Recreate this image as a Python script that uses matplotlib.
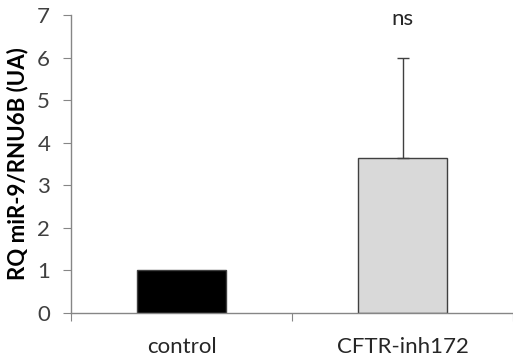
import matplotlib.pyplot as plt

categories = ["control", "CFTR-inh172"]
values = [1.0, 3.63]
errors = [0.0, 2.35]
bar_colors = ["#000000", "#d9d9d9"]
yticks = [0, 1, 2, 3, 4, 5, 6, 7]

plt.rcParams['font.family'] = ['Lato', 'DejaVu Sans']

fig = plt.figure(figsize=(5.13, 3.6), dpi=100)
ax = fig.add_axes([71 / 513, (360 - 313) / 360, 442 / 513, 298 / 360])

x = list(range(len(categories)))
ax.bar(x, values, width=0.4, color=bar_colors, edgecolor="#404040", linewidth=1.0, zorder=2)
ax.errorbar(x[1], values[1], yerr=[[0], [errors[1]]], fmt="none", ecolor="#404040",
            elinewidth=1.0, capsize=4, capthick=1.0, zorder=3)
ax.text(x[1], 6.9, "ns", ha="center", va="center", fontsize=16, color="#262626")

ax.set_xlim(-0.5, 1.456)
ax.set_ylim(0, 7)
ax.set_yticks(yticks)
ax.set_yticklabels([str(t) for t in yticks], fontsize=16, color="#404040")
ax.set_xticks([-0.5, 0.5, 1.5])
ax.set_xticklabels([])
ax.set_xticks(x, minor=True)
ax.set_xticklabels(categories, minor=True, fontsize=16, color="#262626")
ax.tick_params(axis="x", which="minor", length=0, pad=17)
ax.tick_params(axis="x", which="major", length=6, color="#868686", direction="out")
ax.tick_params(axis="y", length=6, color="#868686", direction="out", pad=9)

for side in ["top", "right"]:
    ax.spines[side].set_visible(False)
for side in ["left", "bottom"]:
    ax.spines[side].set_color("#868686")
    ax.spines[side].set_linewidth(1.0)

ax.set_ylabel("RQ miR-9/RNU6B (UA)", fontsize=16, fontweight="bold", color="#000000", labelpad=6)

fig.savefig("out.png", dpi=100)
